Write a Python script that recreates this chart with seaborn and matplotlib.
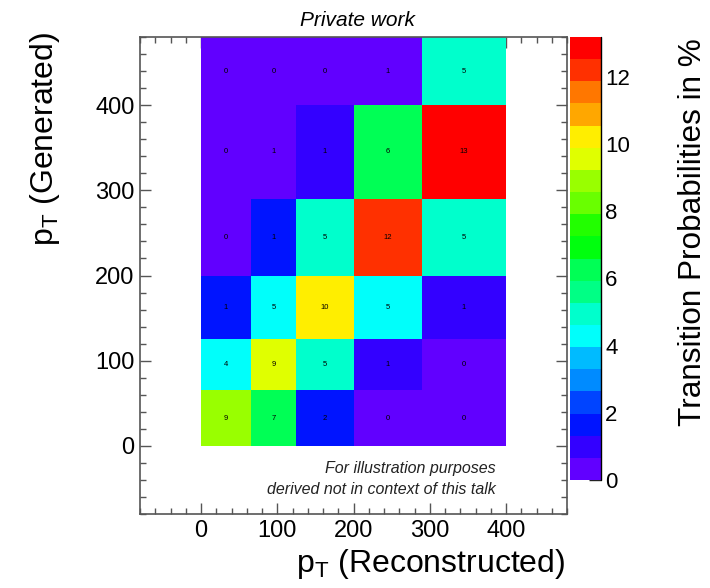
import numpy as np
import pandas as pd
import matplotlib
matplotlib.use("Agg")
import matplotlib.pyplot as plt
from matplotlib.colors import ListedColormap
from matplotlib.ticker import MultipleLocator
import seaborn as sns

# ---- data ----
x_edges = [0, 65, 125, 200, 290, 400]          # p_T reconstructed bin edges
y_edges = [0, 65, 125, 200, 290, 400, 480]     # p_T generated bin edges
# transition probabilities in %, one list per generated bin (bottom -> top),
# entries per reconstructed bin (left -> right)
gen_bin_0 = [8.9, 6.55, 1.7, 0.3, 0.2]
gen_bin_1 = [4.2, 9.3, 4.9, 1.0, 0.2]
gen_bin_2 = [1.4, 4.55, 10.1, 4.55, 0.9]
gen_bin_3 = [0.3, 1.4, 5.0, 12.1, 5.1]
gen_bin_4 = [0.2, 0.6, 1.1, 6.2, 13.18]
gen_bin_5 = [0.1, 0.1, 0.2, 0.6, 4.8]
cbar_ticks = [0, 2, 4, 6, 8, 10, 12]
axis_ticks = [0, 100, 200, 300, 400]

# ROOT "pretty" palette, 20 contour levels
palette = ["#6100ff", "#3300ff", "#0014ff", "#0044ff", "#008bff", "#00bbff",
           "#00fffb", "#00ffcc", "#00ff85", "#00ff55", "#00ff0e", "#22ff00",
           "#69ff00", "#99ff00", "#e0ff00", "#ffee00", "#ffa700", "#ff7700",
           "#ff3000", "#ff0000"]

rows = [gen_bin_0, gen_bin_1, gen_bin_2, gen_bin_3, gen_bin_4, gen_bin_5]
xc = [(a + b) / 2 for a, b in zip(x_edges[:-1], x_edges[1:])]
yc = [(a + b) / 2 for a, b in zip(y_edges[:-1], y_edges[1:])]
records = []
for j, row in enumerate(rows):
    for i, v in enumerate(row):
        records.append({"reco": xc[i], "gen": yc[j], "prob": v})
df = pd.DataFrame(records)

sns.set_style("ticks")
plt.rcParams["font.family"] = ["Liberation Sans", "DejaVu Sans"]
plt.rcParams["mathtext.fontset"] = "custom"
plt.rcParams["mathtext.rm"] = "Liberation Sans"
plt.rcParams["mathtext.it"] = "Liberation Sans:italic"
plt.rcParams["mathtext.default"] = "regular"
plt.rcParams["text.color"] = "black"
plt.rcParams["xtick.labelcolor"] = "black"
plt.rcParams["ytick.labelcolor"] = "black"

W, H = 710, 588
fig = plt.figure(figsize=(W / 100, H / 100), dpi=100)
ax = fig.add_axes([140 / W, 1 - 514 / H, (567 - 140) / W, (514 - 37) / H])
cax = fig.add_axes([570 / W, 1 - 480 / H, 31 / W, (480 - 37) / H])

cmap = ListedColormap(palette)
zmax = df["prob"].max()
sns.histplot(data=df, x="reco", y="gen", weights="prob",
             bins=[x_edges, y_edges], cmap=cmap, vmin=0, vmax=zmax,
             cbar=True, cbar_ax=cax, ax=ax)

for j, row in enumerate(rows):
    for i, v in enumerate(row):
        ax.text(xc[i], yc[j], f"{v:.0f}", ha="center", va="center",
                fontsize=5.5, color="black")

ax.set_xlim(-80, 480)
ax.set_ylim(-80, 480)
ax.set_xticks(axis_ticks)
ax.set_yticks(axis_ticks)
ax.xaxis.set_minor_locator(MultipleLocator(20))
ax.yaxis.set_minor_locator(MultipleLocator(20))
frame_col = "#555555"
ax.tick_params(which="both", direction="in", top=True, right=True,
               color=frame_col, width=1.0, labelcolor="black")
ax.tick_params(which="major", length=8, labelsize=17, pad=4)
ax.tick_params(which="minor", length=4)
for s in ax.spines.values():
    s.set_color(frame_col)
    s.set_linewidth(1.2)
ax.set_xlabel("")
ax.set_ylabel("")

# colorbar styling
cax.set_yticks(cbar_ticks)
cax.tick_params(direction="in", length=9, width=1.0, labelsize=16, pad=3,
                color="#222222", labelcolor="black")
cax.minorticks_off()
cbar = ax.collections[0].colorbar
if cbar is not None:
    cbar.outline.set_visible(False)
cax.plot([1, 1], [0, 1], transform=cax.transAxes, color="black", lw=1.0,
         clip_on=False)

# texts
fig.text(358 / W, 1 - 20 / H, "Private work", ha="center", va="center",
         fontsize=15, style="italic")
fig.text(496 / W, 1 - 469 / H, "For illustration purposes", ha="right",
         va="center", fontsize=11.5, style="italic", color="#222222")
fig.text(496 / W, 1 - 489 / H, "derived not in context of this talk",
         ha="right", va="center", fontsize=11.5, style="italic",
         color="#222222")
fig.text(565 / W, 1 - 572 / H, "p$_T$ (Reconstructed)", ha="right",
         va="baseline", fontsize=23)
fig.text(45 / W, 1 - 32 / H, "p$_T$ (Generated)", ha="center", va="top",
         rotation=90, fontsize=23)
fig.text(693 / W, 1 - 38 / H, "Transition Probabilities in %", ha="center",
         va="top", rotation=90, fontsize=22.7)

fig.savefig("out.png", dpi=100)
